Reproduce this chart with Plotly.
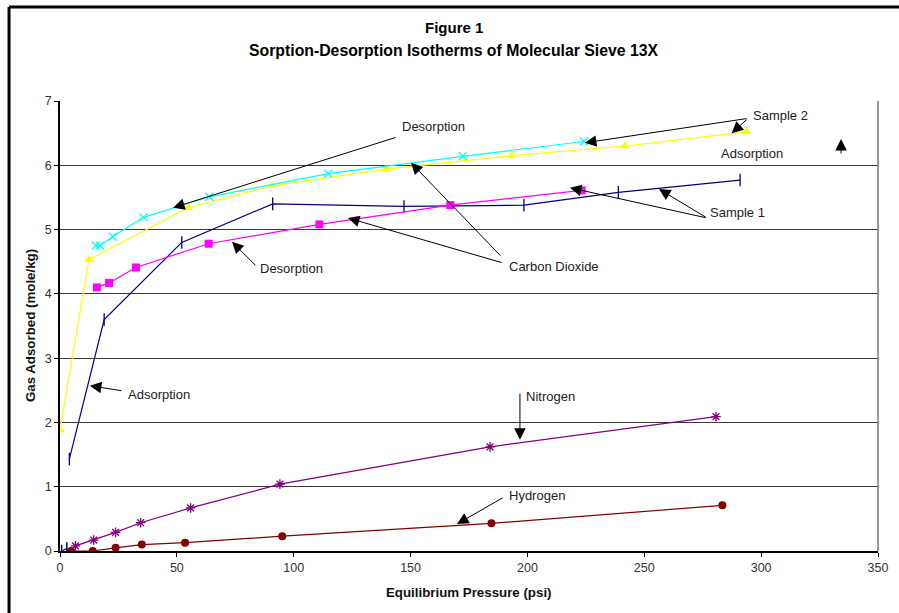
import plotly.graph_objects as go

# Sample 2 - adsorption (yellow) and desorption (cyan) of carbon dioxide
s2_ads_p = [0.0, 12.4, 54.8, 90.7, 139.5, 193.3, 241.8, 293.8]
s2_ads_q = [1.88, 4.53, 5.34, 5.68, 5.94, 6.15, 6.30, 6.52]
s2_des_p = [15.3, 17.1, 22.5, 35.7, 63.9, 114.8, 172.3, 224.2]
s2_des_q = [4.75, 4.75, 4.89, 5.19, 5.51, 5.87, 6.14, 6.37]

# Sample 1 - adsorption (navy) and desorption (magenta) of carbon dioxide
s1_ads_p = [4.0, 18.9, 52.1, 91.0, 147.2, 198.5, 238.9, 291.0]
s1_ads_q = [1.43, 3.60, 4.80, 5.40, 5.36, 5.38, 5.58, 5.77]
s1_des_p = [15.8, 21.0, 32.5, 63.6, 111.0, 167.0, 223.2]
s1_des_q = [4.10, 4.17, 4.41, 4.78, 5.08, 5.38, 5.61]
s1_low_p = [0.7, 2.9]
s1_low_q = [0.0, 0.04]

# Nitrogen and hydrogen
n2_p = [6.6, 14.4, 23.8, 34.5, 55.9, 94.1, 184.0, 280.7]
n2_q = [0.08, 0.17, 0.29, 0.44, 0.67, 1.04, 1.62, 2.09]
h2_p = [4.7, 14.0, 23.8, 35.0, 53.5, 95.1, 184.6, 283.4]
h2_q = [0.0, 0.0, 0.05, 0.10, 0.13, 0.23, 0.43, 0.71]

x_ticks = [0, 50, 100, 150, 200, 250, 300, 350]
y_ticks = [0, 1, 2, 3, 4, 5, 6, 7]

FONT = "Arial, Liberation Sans, sans-serif"

fig = go.Figure()


def add_series(px, py, color, symbol, size, mline=None):
    fig.add_trace(go.Scatter(
        x=px, y=py, mode="lines+markers",
        line=dict(color=color, width=1.2),
        marker=dict(color=color, symbol=symbol, size=size,
                    line=dict(color=color, width=mline if mline else 0)),
        showlegend=False, hoverinfo="x+y"))


add_series(h2_p, h2_q, "#800000", "circle", 8)
add_series(n2_p, n2_q, "#800080", "asterisk-open", 8, 1.3)
add_series(s1_low_p, s1_low_q, "#000080", "line-ns-open", 9, 1.5)
add_series(s1_ads_p, s1_ads_q, "#000080", "line-ns-open", 9, 1.3)
add_series(s1_des_p, s1_des_q, "#FF00FF", "square", 8)
add_series(s2_ads_p, s2_ads_q, "#FFFF00", "triangle-up", 9)
add_series(s2_des_p, s2_des_q, "#00FFFF", "x-thin-open", 8, 1.3)

# callout arrows: (tip x, tip y, tail x, tail y)
arrows = [
    (48.4, 5.34, 144.2, 6.44),
    (224.6, 6.35, 294.4, 6.73),
    (287.4, 6.50, 294.4, 6.73),
    (334.2, 6.41, 334.2, 6.16),
    (218.2, 5.65, 276.9, 5.18),
    (256.3, 5.63, 276.9, 5.18),
    (123.2, 5.18, 189.6, 4.48),
    (150.2, 6.04, 189.1, 4.57),
    (73.6, 4.81, 84.3, 4.42),
    (12.8, 2.57, 27.0, 2.49),
    (196.8, 1.73, 196.8, 2.47),
    (169.9, 0.42, 190.0, 0.84),
]
for tx, ty, ax, ay in arrows:
    fig.add_annotation(x=tx, y=ty, ax=ax, ay=ay, xref="x", yref="y",
                       axref="x", ayref="y", text="", showarrow=True,
                       arrowhead=2, arrowsize=2.3, arrowwidth=1,
                       arrowcolor="#000000")

# callout labels (left edge x, middle y)
labels = [
    ("Desorption", 145.5, 6.60),
    ("Sample 2", 295.7, 6.78),
    ("Adsorption", 282.0, 6.19),
    ("Sample 1", 277.3, 5.26),
    ("Carbon Dioxide", 191.3, 4.42),
    ("Desorption", 84.7, 4.40),
    ("Adsorption", 28.2, 2.44),
    ("Nitrogen", 198.5, 2.41),
    ("Hydrogen", 191.3, 0.86),
]
for txt, lx, ly in labels:
    fig.add_annotation(x=lx, y=ly, xref="x", yref="y", text=txt,
                       showarrow=False, xanchor="left", yanchor="middle",
                       font=dict(family=FONT, size=13, color="#222222"))

# titles
fig.add_annotation(x=0.4817, y=1.164, xref="paper", yref="paper",
                   text="<b>Figure 1</b>", showarrow=False,
                   xanchor="center", yanchor="middle",
                   font=dict(family=FONT, size=15, color="#000000"))
fig.add_annotation(x=0.4817, y=1.113, xref="paper", yref="paper",
                   text="<b>Sorption-Desorption Isotherms of Molecular Sieve 13X</b>",
                   showarrow=False, xanchor="center", yanchor="middle",
                   font=dict(family=FONT, size=15.8, color="#000000"))
fig.add_annotation(x=0.5, y=-0.093, xref="paper", yref="paper",
                   text="<b>Equilibrium Pressure (psi)</b>", showarrow=False,
                   yanchor="middle",
                   font=dict(family=FONT, size=13.3, color="#111111"))
fig.add_annotation(x=-0.0367, y=0.502, xref="paper", yref="paper",
                   text="<b>Gas Adsorbed (mole/kg)</b>", showarrow=False,
                   textangle=-90, xanchor="center", yanchor="middle",
                   font=dict(family=FONT, size=13.3, color="#111111"))

# plot-area right edge and chart-area frame
fig.add_shape(type="line", xref="paper", yref="paper", x0=1, x1=1, y0=0, y1=1,
              line=dict(color="#777777", width=1.5))
fig.add_shape(type="line", xref="paper", yref="paper", x0=-0.0623, x1=1.03,
              y0=1.2089, y1=1.2089, line=dict(color="#000000", width=3))
fig.add_shape(type="line", xref="paper", yref="paper", x0=-0.0623, x1=-0.0623,
              y0=-0.15, y1=1.2089, line=dict(color="#000000", width=3))

fig.update_layout(
    width=899, height=613,
    margin=dict(l=60, r=21, t=101, b=62),
    paper_bgcolor="#FFFFFF", plot_bgcolor="#FFFFFF",
    font=dict(family=FONT, size=12, color="#333333"),
    xaxis=dict(range=[0, 350], tickvals=x_ticks, showgrid=False,
               zeroline=False, showline=True, linecolor="#000000",
               linewidth=1.5, ticks="outside", ticklen=4,
               tickcolor="#000000", tickfont=dict(size=12.5, color="#333333")),
    yaxis=dict(range=[0, 7], tickvals=y_ticks, showgrid=True,
               gridcolor="#3a3a3a", gridwidth=1.2, zeroline=False,
               showline=True, linecolor="#000000", linewidth=1.5,
               ticks="outside", ticklen=4, tickcolor="#000000",
               tickfont=dict(size=12.5, color="#333333")),
)

fig.write_html("out.html")
